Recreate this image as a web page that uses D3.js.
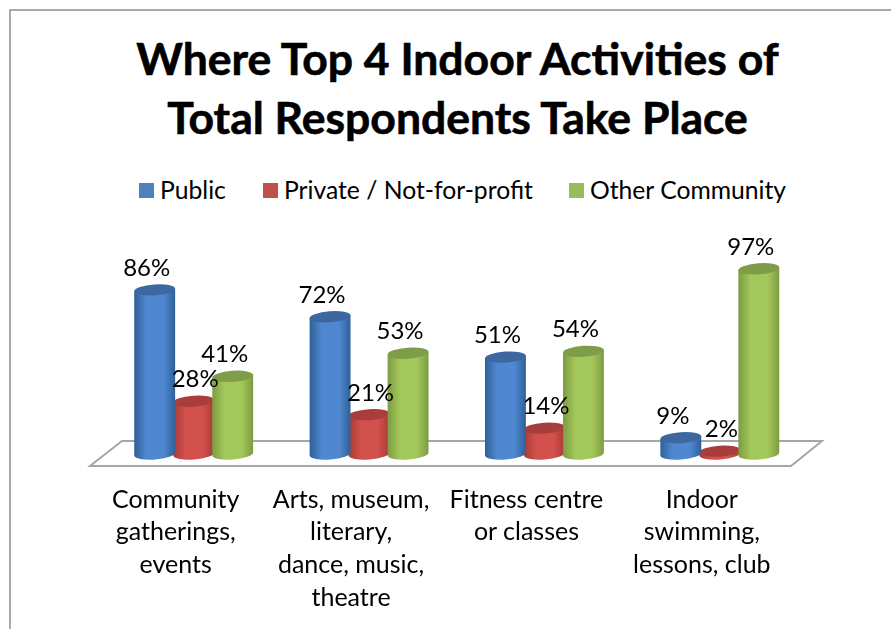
<!DOCTYPE html>
<html>
<head>
<meta charset="utf-8">
<script src="https://cdn.jsdelivr.net/npm/d3@7/dist/d3.min.js"></script>
<style>
html,body{margin:0;padding:0;background:#fff}
svg{display:block}
text{font-family:Lato,"Open Sans",sans-serif;fill:#000}
</style>
</head>
<body>
<svg id="chart" width="891" height="629"></svg>
<script>
// Chart content
const titleLines = ["Where Top 4 Indoor Activities of", "Total Respondents Take Place"];
const seriesNames = ["Public", "Private / Not-for-profit", "Other Community"];
const categories = ["Community gatherings, events", "Arts, museum, literary, dance, music, theatre", "Fitness centre or classes", "Indoor swimming, lessons, club"];
const categoryLines = [
  ["Community", "gatherings,", "events"],
  ["Arts, museum,", "literary,", "dance, music,", "theatre"],
  ["Fitness centre", "or classes"],
  ["Indoor", "swimming,", "lessons, club"]
];
const publicValues = [86, 72, 51, 9];
const privateValues = [28, 21, 14, 2];
const otherValues = [41, 53, 54, 97];

const seriesValues = [publicValues, privateValues, otherValues];
const palette = [
  {swatch:"#4f81bd", edge:"#2f6099", mid:"#4f88d0", top:"#3c689f"},
  {swatch:"#c0504d", edge:"#a83a37", mid:"#d2514d", top:"#a83c3a"},
  {swatch:"#9bbb59", edge:"#7d9c42", mid:"#a2c75a", top:"#7f9c48"}
];

const svg = d3.select("#chart");

// Scales for category groups, series within a group, and percentage height
const x0 = d3.scaleBand().domain(categories).range([106.5, 808]);
const x1 = d3.scalePoint().domain(seriesNames).range([-39.5, 38.5]);
const y = d3.scaleLinear().domain([0, 100]).range([455, 263]);

const barW = 41, ry = 5.5, tilt = -4;
const tiltRad = tilt * Math.PI / 180;
const dx = Math.cos(tiltRad) * barW / 2, dy = Math.sin(tiltRad) * barW / 2;

// Horizontal shading that gives each column its rounded look
const defs = svg.append("defs");
palette.forEach((p, i) => {
  const g = defs.append("linearGradient").attr("id", "cyl" + i);
  [[0, p.edge], [0.3, p.mid], [0.72, p.mid], [1, p.edge]].forEach(([o, c]) =>
    g.append("stop").attr("offset", o).attr("stop-color", c));
});
const soft = defs.append("filter").attr("id", "soft");
soft.append("feGaussianBlur").attr("stdDeviation", 0.6);

// Outer frame, open on the right and at the bottom
svg.append("path")
  .attr("d", "M10,629V10H891")
  .attr("fill", "none").attr("stroke", "#8f8f8f").attr("stroke-width", 1.5);

// Title
svg.append("g").selectAll("text").data(titleLines).join("text")
  .attr("x", 457.5)
  .attr("y", (d, i) => 75 + i * 59)
  .attr("text-anchor", "middle")
  .attr("font-size", 44.5)
  .attr("font-weight", 700)
  .style("stroke", "#000").style("stroke-width", 0.6)
  .text(d => d);

// Legend
const legendSwatchX = [139, 263, 569];
const legend = svg.append("g").selectAll("g").data(seriesNames).join("g")
  .attr("transform", (d, i) => `translate(${legendSwatchX[i]},183)`);
legend.append("rect").attr("width", 15).attr("height", 15)
  .attr("fill", (d, i) => palette[i].swatch);
legend.append("text").attr("x", 21).attr("y", 15.5).attr("font-size", 24.7).text(d => d);

// Floor of the 3D plot
svg.append("path")
  .attr("d", "M90,466L122,441H822L791,466Z")
  .attr("fill", "#fff").attr("stroke", "#a6a6a6").attr("stroke-width", 2);

// Columns: red first so its neighbours overlap it
const order = [1, 0, 2];
const bars = svg.append("g").attr("filter", "url(#soft)");
categories.forEach((c, ci) => {
  order.forEach(si => {
    const cx = x0(c) + x0.bandwidth() / 2 + x1(seriesNames[si]);
    const yb = y(0) - 1, yt = y(seriesValues[si][ci]);
    const body = `M${cx - dx},${yt - dy}L${cx - dx},${yb - dy}` +
      `A${barW / 2},${ry} ${tilt} 0 0 ${cx + dx},${yb + dy}` +
      `L${cx + dx},${yt + dy}Z`;
    bars.append("path").attr("d", body).attr("fill", `url(#cyl${si})`);
    bars.append("ellipse")
      .attr("rx", barW / 2).attr("ry", ry)
      .attr("transform", `translate(${cx},${yt}) rotate(${tilt})`)
      .attr("fill", palette[si].top);
  });
});

// Value labels sit above the column tops, nudged off centre per series
const labelOffset = [-8, 1.5, -8];
const labels = svg.append("g").attr("text-anchor", "middle").attr("font-size", 24);
categories.forEach((c, ci) => {
  seriesNames.forEach((s, si) => {
    const v = seriesValues[si][ci];
    labels.append("text")
      .attr("x", x0(c) + x0.bandwidth() / 2 + x1(s) + labelOffset[si])
      .attr("y", y(v) - 14)
      .text(v + "%");
  });
});

// Category labels
const catLabels = svg.append("g").attr("text-anchor", "middle").attr("font-size", 25);
categories.forEach((c, ci) => {
  catLabels.append("g").selectAll("text").data(categoryLines[ci]).join("text")
    .attr("x", x0(c) + x0.bandwidth() / 2 - 18.5)
    .attr("y", (d, i) => 507.5 + i * 32.7)
    .text(d => d);
});
</script>
</body>
</html>
